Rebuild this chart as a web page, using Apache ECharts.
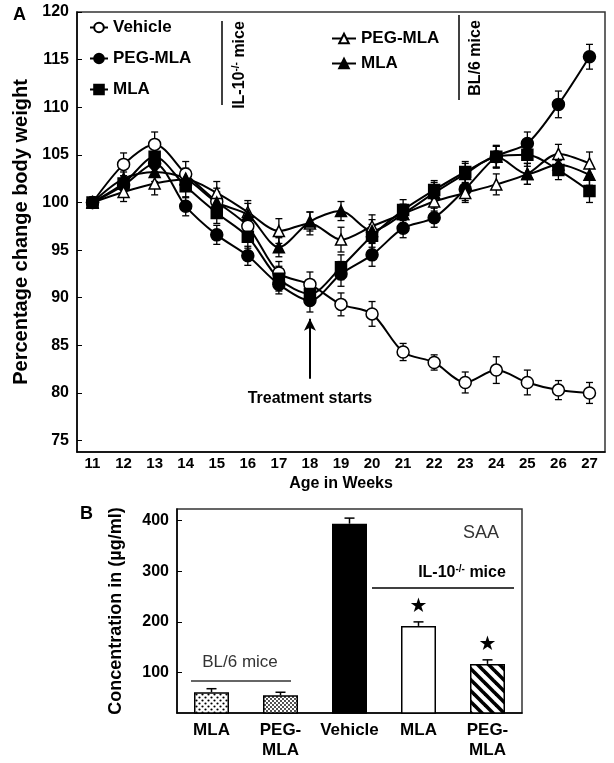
<!DOCTYPE html>
<html><head><meta charset="utf-8">
<script src="https://cdn.jsdelivr.net/npm/echarts@6/dist/echarts.min.js"></script>
<style>html,body{margin:0;padding:0;background:#fff}#c{width:614px;height:763px}</style>
</head><body><div id="c"></div>
<script>
// ---------- Panel A data ----------
const weeks = ['11','12','13','14','15','16','17','18','19','20','21','22','23','24','25','26','27'];
const yTicksA = [75, 80, 85, 90, 95, 100, 105, 110, 115, 120];
const vehicle   = [100, 104.0, 106.1, 103.0, 100.1, 97.5, 92.6, 91.4, 89.3, 88.3, 84.3, 83.2, 81.1, 82.4, 81.1, 80.3, 80.0];
const vehicleE  = [0, 1.2, 1.3, 1.3, 1.4, 1.2, 1.2, 1.3, 1.2, 1.3, 0.9, 0.8, 1.1, 1.4, 1.3, 1.0, 1.1];
const pegIL     = [100, 101.8, 104.1, 99.6, 96.6, 94.4, 91.4, 89.7, 92.5, 94.5, 97.3, 98.4, 101.4, 104.8, 106.2, 110.3, 115.3];
const pegILE    = [0, 1.0, 1.2, 1.0, 1.0, 1.0, 1.0, 1.2, 1.3, 1.2, 1.0, 1.0, 1.2, 1.2, 1.2, 1.4, 1.3];
const mlaIL     = [100, 102.0, 104.8, 101.7, 98.9, 96.4, 92.0, 90.4, 93.2, 96.5, 99.2, 101.3, 103.2, 104.8, 105.0, 103.4, 101.2];
const mlaILE    = [0, 1.2, 1.3, 1.2, 1.1, 1.2, 1.3, 1.2, 1.3, 1.2, 1.1, 1.0, 1.1, 1.1, 1.2, 1.0, 1.2];
const pegBL     = [100, 101.1, 102.0, 102.4, 101.0, 99.0, 97.0, 97.8, 96.1, 97.5, 98.8, 100.1, 101.0, 101.9, 103.0, 105.1, 104.1];
const pegBLE    = [0, 1.0, 1.2, 1.1, 1.2, 1.2, 1.3, 1.2, 1.3, 1.2, 1.0, 1.0, 1.0, 1.1, 1.1, 1.0, 1.2];
const mlaBL     = [100, 102.5, 103.2, 102.5, 100.0, 98.7, 95.3, 98.0, 99.1, 97.0, 98.8, 101.0, 103.0, 104.8, 103.0, 104.0, 102.9];
const mlaBLE    = [0, 1.0, 1.0, 1.1, 1.1, 1.2, 1.0, 1.0, 1.0, 1.2, 1.0, 1.1, 1.1, 1.1, 1.1, 1.1, 1.1];
const treatmentWeek = '18';
const arrowFrom = 81.5, arrowTo = 87.8;

// ---------- Panel B data ----------
const barLabels = ['MLA', 'PEG-\nMLA', 'Vehicle', 'MLA', 'PEG-\nMLA'];
const barKeys   = ['b0', 'b1', 'b2', 'b3', 'b4'];
const saa       = [61, 55, 394, 192, 117];
const saaErr    = [7, 6, 11, 8, 8];
const saaSig    = [false, false, false, true, true];
const yTicksB   = [100, 200, 300, 400];

const FONT = '"Liberation Sans", Arial, sans-serif';

function pattern(kind) {
  const c = document.createElement('canvas');
  const ctx = c.getContext('2d');
  if (kind === 'dots' || kind === 'dotsDense') {
    const s = kind === 'dots' ? 6 : 4;
    c.width = s; c.height = s;
    ctx.fillStyle = '#fff'; ctx.fillRect(0, 0, s, s);
    ctx.fillStyle = '#000';
    const r = kind === 'dots' ? 1.1 : 0.9;
    ctx.beginPath(); ctx.arc(s / 4, s / 4, r, 0, Math.PI * 2); ctx.fill();
    ctx.beginPath(); ctx.arc(3 * s / 4, 3 * s / 4, r, 0, Math.PI * 2); ctx.fill();
  } else {
    const s = 11;
    c.width = s; c.height = s;
    ctx.fillStyle = '#fff'; ctx.fillRect(0, 0, s, s);
    ctx.strokeStyle = '#000'; ctx.lineWidth = 3.6;
    [-s, 0, s].forEach(dx => {
      ctx.beginPath(); ctx.moveTo(dx - 2, -2); ctx.lineTo(dx + s + 2, s + 2); ctx.stroke();
    });
  }
  return { image: c, repeat: 'repeat' };
}
const barFills = [pattern('dots'), pattern('dotsDense'), '#000', '#fff', pattern('stripes')];

function lineSeries(name, data, symbol, filled) {
  return {
    type: 'line', name, data, xAxisIndex: 0, yAxisIndex: 0,
    symbol, symbolSize: symbol === 'triangle' ? 11 : (symbol === 'rect' ? 11 : 12),
    smooth: 0.3,
    lineStyle: { color: '#000', width: 2 },
    itemStyle: { color: filled ? '#000' : '#fff', borderColor: '#000', borderWidth: 1.5 },
    z: 3
  };
}
function errSeries(vals, errs) {
  return {
    type: 'custom', xAxisIndex: 0, yAxisIndex: 0, silent: true, z: 2,
    data: vals.map((v, i) => [i, v - errs[i], v + errs[i]]),
    renderItem: (params, api) => {
      if (api.value(2) - api.value(1) <= 0) return null;
      const lo = api.coord([api.value(0), api.value(1)]);
      const hi = api.coord([api.value(0), api.value(2)]);
      const w = 3.5, st = { stroke: '#000', lineWidth: 1.3 };
      return { type: 'group', children: [
        { type: 'line', shape: { x1: lo[0], y1: lo[1], x2: hi[0], y2: hi[1] }, style: st },
        { type: 'line', shape: { x1: lo[0] - w, y1: lo[1], x2: lo[0] + w, y2: lo[1] }, style: st },
        { type: 'line', shape: { x1: hi[0] - w, y1: hi[1], x2: hi[0] + w, y2: hi[1] }, style: st }
      ] };
    }
  };
}

const vehSeries = lineSeries('Vehicle', vehicle, 'circle', false);
vehSeries.markLine = {
  silent: true, symbol: ['none', 'arrow'], symbolSize: [9, 12],
  lineStyle: { color: '#000', width: 2, type: 'solid' },
  label: { show: true, position: 'start', formatter: 'Treatment starts', color: '#000',
           fontFamily: FONT, fontWeight: 'bold', fontSize: 16, distance: 12 },
  data: [[{ coord: [treatmentWeek, arrowFrom] }, { coord: [treatmentWeek, arrowTo] }]]
};

const legendText = { color: '#000', fontFamily: FONT, fontWeight: 'bold', fontSize: 17 };
const axisTxt = { color: '#000', fontFamily: FONT, fontWeight: 'bold', fontSize: 15 };
const supRich = {
  a: { fontFamily: FONT, fontWeight: 'bold', fontSize: 16, fill: '#000', color: '#000' },
  s: { fontFamily: FONT, fontWeight: 'bold', fontSize: 10, fill: '#000', color: '#000', verticalAlign: 'top', padding: [0, 0, 8, 0] }
};

const option = {
  animation: false,
  backgroundColor: '#fff',
  grid: [
    { left: 77, right: 9, top: 12, height: 440, show: true, borderColor: '#333', borderWidth: 1.5 },
    { left: 177, right: 92, top: 509, height: 204, show: true, borderColor: '#333', borderWidth: 1.5 }
  ],
  legend: [
    { data: ['Vehicle', 'PEG-MLA', 'MLA'], orient: 'vertical', left: 84, top: 14, itemGap: 14,
      itemWidth: 18, itemHeight: 12, textStyle: legendText, selectedMode: false },
    { data: ['PEG-MLA ', 'MLA '], orient: 'vertical', left: 326, top: 25, itemGap: 8,
      itemWidth: 24, itemHeight: 12, textStyle: legendText, selectedMode: false }
  ],
  xAxis: [
    { type: 'category', gridIndex: 0, data: weeks, boundaryGap: true,
      axisLine: { lineStyle: { color: '#000', width: 1.5 } },
      axisTick: { inside: true, length: 5, lineStyle: { color: '#000' } },
      axisLabel: Object.assign({ margin: 4, interval: 0 }, axisTxt),
      name: 'Age in Weeks', nameLocation: 'middle', nameGap: 24,
      nameTextStyle: { color: '#000', fontFamily: FONT, fontWeight: 'bold', fontSize: 16 } },
    { type: 'category', gridIndex: 1, data: barKeys, boundaryGap: true,
      axisLine: { lineStyle: { color: '#000', width: 1.5 } },
      axisTick: { inside: true, length: 5, lineStyle: { color: '#000' } },
      axisLabel: Object.assign({ margin: 7, interval: 0, lineHeight: 20,
        formatter: (v, i) => barLabels[i] }, axisTxt, { fontSize: 17 }) }
  ],
  yAxis: [
    { type: 'value', gridIndex: 0, min: 73.8, max: 120,
      axisLine: { show: true, lineStyle: { color: '#000', width: 1.5 } },
      axisTick: { show: true, inside: true, length: 5, customValues: yTicksA, lineStyle: { color: '#000' } },
      axisLabel: Object.assign({ margin: 8, customValues: yTicksA }, axisTxt, { fontSize: 16 }),
      splitLine: { show: false },
      name: 'Percentage change body weight', nameLocation: 'middle', nameGap: 38, nameRotate: 90,
      nameTextStyle: { color: '#000', fontFamily: FONT, fontWeight: 'bold', fontSize: 20 } },
    { type: 'value', gridIndex: 1, min: 20, max: 423,
      axisLine: { show: true, lineStyle: { color: '#000', width: 1.5 } },
      axisTick: { show: true, inside: true, length: 5, customValues: yTicksB, lineStyle: { color: '#000' } },
      axisLabel: Object.assign({ margin: 8, customValues: yTicksB }, axisTxt, { fontSize: 16 }),
      splitLine: { show: false },
      name: 'Concentration in (µg/ml)', nameLocation: 'middle', nameGap: 52, nameRotate: 90,
      nameTextStyle: { color: '#000', fontFamily: FONT, fontWeight: 'bold', fontSize: 18 } }
  ],
  series: [
    errSeries(vehicle, vehicleE), errSeries(pegIL, pegILE), errSeries(mlaIL, mlaILE),
    errSeries(pegBL, pegBLE), errSeries(mlaBL, mlaBLE),
    vehSeries,
    lineSeries('PEG-MLA', pegIL, 'circle', true),
    lineSeries('MLA', mlaIL, 'rect', true),
    lineSeries('PEG-MLA ', pegBL, 'triangle', false),
    lineSeries('MLA ', mlaBL, 'triangle', true),
    { type: 'bar', xAxisIndex: 1, yAxisIndex: 1, barWidth: 35,
      data: saa.map((v, i) => ({ value: v, itemStyle: { color: barFills[i], borderColor: '#000', borderWidth: 1.5 } })),
      z: 2 },
    { type: 'custom', xAxisIndex: 1, yAxisIndex: 1, silent: true, z: 3,
      data: saa.map((v, i) => [i, v, v + saaErr[i], saaSig[i] ? 1 : 0]),
      renderItem: (params, api) => {
        const base = api.coord([api.value(0), api.value(1)]);
        const top = api.coord([api.value(0), api.value(2)]);
        const w = 5, st = { stroke: '#000', lineWidth: 1.5 };
        const ch = [
          { type: 'line', shape: { x1: base[0], y1: base[1], x2: top[0], y2: top[1] }, style: st },
          { type: 'line', shape: { x1: top[0] - w, y1: top[1], x2: top[0] + w, y2: top[1] }, style: st }
        ];
        if (api.value(3)) ch.push({ type: 'text', x: top[0], y: top[1] - 15,
          style: { text: '★', fill: '#000', font: '20px "DejaVu Sans"', align: 'center', verticalAlign: 'middle' } });
        return { type: 'group', children: ch };
      } }
  ],
  graphic: [
    { type: 'text', left: 13, top: 6, style: { text: 'A', font: 'bold 18px ' + FONT, fill: '#000' } },
    { type: 'text', left: 80, top: 505, style: { text: 'B', font: 'bold 18px ' + FONT, fill: '#000' } },
    { type: 'line', shape: { x1: 222, y1: 21, x2: 222, y2: 105 }, style: { stroke: '#000', lineWidth: 1.5 } },
    { type: 'text', x: 240, y: 65, rotation: Math.PI / 2,
      style: { text: '{a|IL-10}{s|-/-}{a| mice}', rich: supRich, align: 'center', verticalAlign: 'middle' } },
    { type: 'line', shape: { x1: 459, y1: 15, x2: 459, y2: 100 }, style: { stroke: '#000', lineWidth: 1.5 } },
    { type: 'text', x: 476, y: 58, rotation: Math.PI / 2,
      style: { text: 'BL/6 mice', font: 'bold 16px ' + FONT, fill: '#000', align: 'center', verticalAlign: 'middle' } },
    { type: 'text', x: 481, y: 533, style: { text: 'SAA', font: '18px ' + FONT, fill: '#333', align: 'center', verticalAlign: 'middle' } },
    { type: 'text', x: 462, y: 573, style: { text: '{a|IL-10}{s|-/-}{a| mice}', rich: supRich, align: 'center', verticalAlign: 'middle' } },
    { type: 'line', shape: { x1: 372, y1: 588, x2: 514, y2: 588 }, style: { stroke: '#000', lineWidth: 1.5 } },
    { type: 'text', x: 240, y: 662, style: { text: 'BL/6 mice', font: '17px ' + FONT, fill: '#333', align: 'center', verticalAlign: 'middle' } },
    { type: 'line', shape: { x1: 191, y1: 681, x2: 291, y2: 681 }, style: { stroke: '#333', lineWidth: 1.5 } }
  ]
};
const chart = echarts.init(document.getElementById('c'), null, { renderer: 'canvas' });
chart.setOption(option);
</script></body></html>
